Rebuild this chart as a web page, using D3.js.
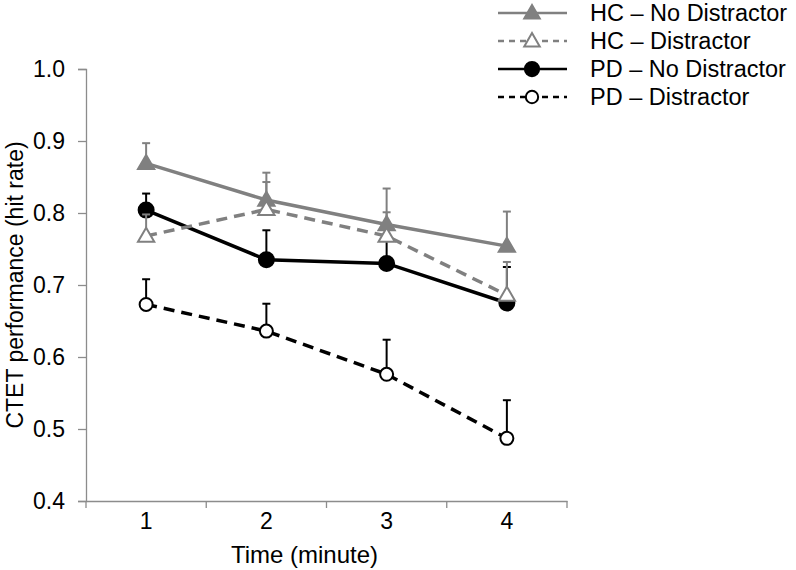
<!DOCTYPE html>
<html>
<head>
<meta charset="utf-8">
<script src="https://cdn.jsdelivr.net/npm/d3@7"></script>
<style>
  body { margin: 0; background: #fff; }
  svg { font-family: "Liberation Sans", Arial, sans-serif; }
</style>
</head>
<body>
<svg id="chart" width="796" height="570"></svg>
<script>
const categories = [1, 2, 3, 4];
const yTicks = [0.4, 0.5, 0.6, 0.7, 0.8, 0.9, 1.0];

const hcNoDistractor = [0.869, 0.818, 0.784, 0.754];
const hcNoDistractorErr = [0.028, 0.038, 0.050, 0.048];
const hcDistractor = [0.768, 0.805, 0.768, 0.686];
const hcDistractorErr = [0.03, 0.038, 0.033, 0.046];
const pdNoDistractor = [0.804, 0.735, 0.730, 0.675];
const pdNoDistractorErr = [0.023, 0.041, 0.035, 0.050];
const pdDistractor = [0.673, 0.636, 0.576, 0.487];
const pdDistractorErr = [0.035, 0.038, 0.048, 0.053];

const seriesNames = ["HC – No Distractor", "HC – Distractor", "PD – No Distractor", "PD – Distractor"];

const series = [
  { name: seriesNames[0], values: hcNoDistractor, err: hcNoDistractorErr, color: "#808080", dash: null, legendDash: null, marker: "triangle", filled: true },
  { name: seriesNames[1], values: hcDistractor, err: hcDistractorErr, color: "#808080", dash: "11,7", legendDash: "6,5", marker: "triangle", filled: false },
  { name: seriesNames[2], values: pdNoDistractor, err: pdNoDistractorErr, color: "#000000", dash: null, legendDash: null, marker: "circle", filled: true },
  { name: seriesNames[3], values: pdDistractor, err: pdDistractorErr, color: "#000000", dash: "11,7", legendDash: "6,5", marker: "circle", filled: false }
];

const svg = d3.select("#chart");
const mLeft = 86, mRight = 567, mTop = 69, mBottom = 501;

const x = d3.scaleBand().domain(categories).range([mLeft, mRight]);
const y = d3.scaleLinear().domain([0.4, 1.0]).range([mBottom, mTop]);
const axisColor = "#8c8c8c";

// Y axis
const yAxis = svg.append("g").attr("transform", `translate(${mLeft},0)`)
  .call(d3.axisLeft(y).tickValues(yTicks).tickFormat(d3.format(".1f")).tickSize(8).tickPadding(13));
yAxis.select(".domain").attr("stroke", axisColor).attr("stroke-width", 1.3);
yAxis.selectAll(".tick line").attr("stroke", axisColor).attr("stroke-width", 1.3);
yAxis.selectAll(".tick text").attr("font-size", 23).attr("fill", "#000").attr("font-family", "Liberation Sans, Arial, sans-serif");

// X axis
const xAxis = svg.append("g").attr("transform", `translate(0,${mBottom})`)
  .call(d3.axisBottom(x).tickSize(0).tickPadding(11));
xAxis.select(".domain").attr("stroke", axisColor).attr("stroke-width", 1.3);
xAxis.selectAll(".tick text").attr("font-size", 23).attr("fill", "#000").attr("dy", "0.72em").attr("font-family", "Liberation Sans, Arial, sans-serif");
const bounds = categories.map(c => x(c)).concat([x(categories[categories.length - 1]) + x.bandwidth()]);
xAxis.selectAll(".btick").data(bounds).enter().append("line")
  .attr("x1", d => d).attr("x2", d => d).attr("y1", 0).attr("y2", 7)
  .attr("stroke", axisColor).attr("stroke-width", 1.3);

// Axis titles
svg.append("text").attr("x", (mLeft + mRight) / 2 - 22).attr("y", 563)
  .attr("text-anchor", "middle").attr("font-size", 24).text("Time (minute)");
svg.append("text").attr("transform", `translate(23,${(mTop + mBottom) / 2}) rotate(-90)`)
  .attr("text-anchor", "middle").attr("font-size", 23).text("CTET performance (hit rate)");

const cx = i => x(categories[i]) + x.bandwidth() / 2;

function drawMarker(g, s, px, py, scale) {
  if (s.marker === "triangle") {
    g.append("path").attr("d", d3.symbol().type(d3.symbolTriangle).size(115 * scale * scale)())
      .attr("transform", `translate(${px},${py + 1})`)
      .attr("fill", s.filled ? s.color : "#fff")
      .attr("stroke", s.color).attr("stroke-width", 2);
  } else {
    g.append("circle").attr("cx", px).attr("cy", py).attr("r", (s.filled ? 7.5 : 6.5) * scale)
      .attr("fill", s.filled ? s.color : "#fff")
      .attr("stroke", s.color).attr("stroke-width", 2);
  }
}

const line = d3.line().x((d, i) => cx(i)).y(d => y(d));

const order = [3, 2, 0, 1];
order.forEach(k => {
  const s = series[k];
  const g = svg.append("g");
  s.values.forEach((v, i) => {
    const px = cx(i), ty = y(v + s.err[i]);
    g.append("line").attr("x1", px).attr("x2", px).attr("y1", y(v)).attr("y2", ty)
      .attr("stroke", s.color).attr("stroke-width", 2);
    g.append("line").attr("x1", px - 4).attr("x2", px + 4).attr("y1", ty).attr("y2", ty)
      .attr("stroke", s.color).attr("stroke-width", 2);
  });
  g.append("path").datum(s.values).attr("d", line)
    .attr("fill", "none").attr("stroke", s.color).attr("stroke-width", 3.5)
    .attr("stroke-dasharray", s.dash);
  s.values.forEach((v, i) => drawMarker(g, s, cx(i), y(v), 1));
});

// Legend
const legendY = [13, 41, 69, 97];
series.forEach((s, i) => {
  const g = svg.append("g");
  const ly = legendY[i];
  g.append("line").attr("x1", 498).attr("x2", 567).attr("y1", ly).attr("y2", ly)
    .attr("stroke", s.color).attr("stroke-width", 2.5).attr("stroke-dasharray", s.legendDash);
  drawMarker(g, s, 532, ly, 0.95);
  g.append("text").attr("x", 590).attr("y", ly).attr("dy", "0.36em")
    .attr("font-size", 23.5).text(s.name);
});
</script>
</body>
</html>
